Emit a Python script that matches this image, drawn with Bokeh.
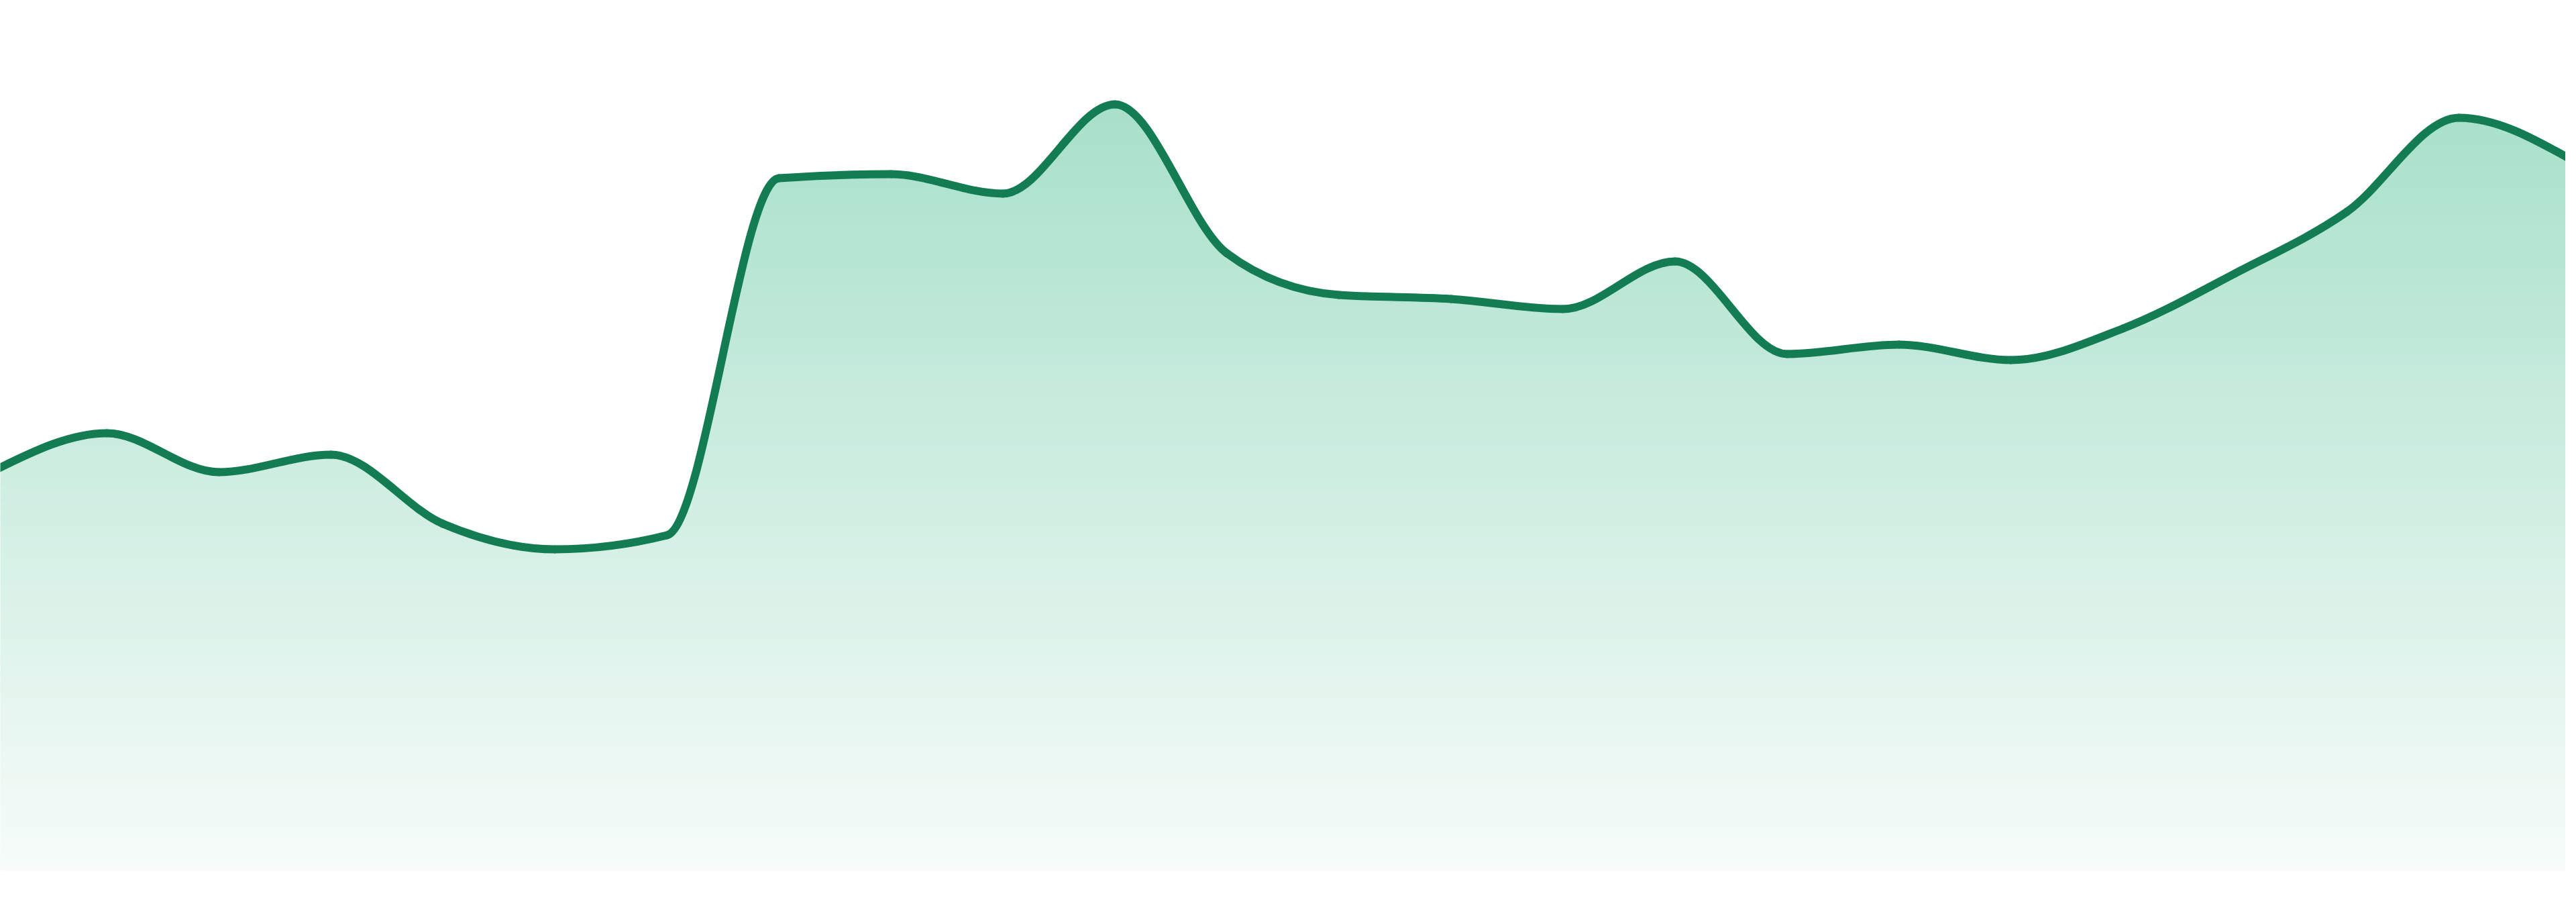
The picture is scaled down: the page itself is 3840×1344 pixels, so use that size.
import numpy as np
from bokeh.plotting import figure
from bokeh.models import Range1d
from bokeh.embed import file_html
from bokeh.resources import INLINE

# ---- data ----
x_index = list(range(24))
values = [597, 652, 594, 620, 517, 479, 500, 1032, 1038, 1009, 1142, 920,
          858, 852, 837, 908, 770, 784, 761, 808, 890, 982, 1122, 1060]

LINE_COLOR = "#137c52"
TOP_RGB = (168, 224, 203)
BOTTOM_RGB = (247, 252, 250)

x = np.array(x_index, dtype=float)
y = np.array(values, dtype=float)
n = len(x)

# ---- monotone-X cubic tangents (as in d3.curveMonotoneX) ----
h = np.diff(x)
s = np.diff(y) / h
t = np.zeros(n)
for i in range(1, n - 1):
    h0, h1 = h[i - 1], h[i]
    s0, s1 = s[i - 1], s[i]
    p_ = (s0 * h1 + s1 * h0) / (h0 + h1)
    t[i] = (np.sign(s0) + np.sign(s1)) * min(abs(s0), abs(s1), 0.5 * abs(p_))
t[0] = (3 * s[0] - t[1]) / 2
t[-1] = (3 * s[-1] - t[-2]) / 2

dx = h / 3.0
x0, y0 = x[:-1], y[:-1]
x1, y1 = x[1:], y[1:]
cx0, cy0 = x0 + dx, y0 + dx * t[:-1]
cx1, cy1 = x1 - dx, y1 - dx * t[1:]

# sample the same Bezier segments for the area fill
tt = np.linspace(0, 1, 41)[:-1]
xs, ys = [], []
for k in range(n - 1):
    a = (1 - tt) ** 3
    b = 3 * (1 - tt) ** 2 * tt
    c = 3 * (1 - tt) * tt ** 2
    d = tt ** 3
    xs.append(a * x0[k] + b * cx0[k] + c * cx1[k] + d * x1[k])
    ys.append(a * y0[k] + b * cy0[k] + c * cy1[k] + d * y1[k])
xs.append(np.array([x[-1]]))
ys.append(np.array([y[-1]]))
cx = np.concatenate(xs)
cy = np.concatenate(ys)

# plot sits at page (8,8)-(3832,1336); ranges chosen so the curve lines up with
# a full-window chart whose x spans 0..3840 and whose baseline is at y=1305
W, H = 3824, 1328
unit = 3840.0 / (n - 1)
p = figure(width=W, height=H, output_backend="svg", toolbar_location=None,
           x_range=Range1d(8 / unit, (8 + W) / unit),
           y_range=Range1d(1305 - (8 + H), 1305 - 8),
           min_border=0)
p.axis.visible = False
p.grid.visible = False
p.outline_line_color = None
p.background_fill_color = "white"
p.border_fill_color = "white"

# vertical gradient fill built from horizontal bands
top_val = float(cy.max())
edges = np.linspace(0, top_val, 90)
for j in range(len(edges) - 1):
    lo, hi = edges[j], edges[j + 1]
    f = ((lo + hi) / 2) / top_val
    col = tuple(int(round(BOTTOM_RGB[m] + (TOP_RGB[m] - BOTTOM_RGB[m]) * f)) for m in range(3))
    color = "#%02x%02x%02x" % col
    band_lo = np.minimum(cy, max(lo - 2, 0))
    band_hi = np.minimum(cy, hi)
    p.varea(x=cx, y1=band_lo, y2=band_hi, fill_color=color, fill_alpha=1.0)

p.bezier(x0=x0, y0=y0, x1=x1, y1=y1, cx0=cx0, cy0=cy0, cx1=cx1, cy1=cy1,
         line_color=LINE_COLOR, line_width=12, line_cap="round")

open("out.html", "w").write(file_html(p, INLINE))
